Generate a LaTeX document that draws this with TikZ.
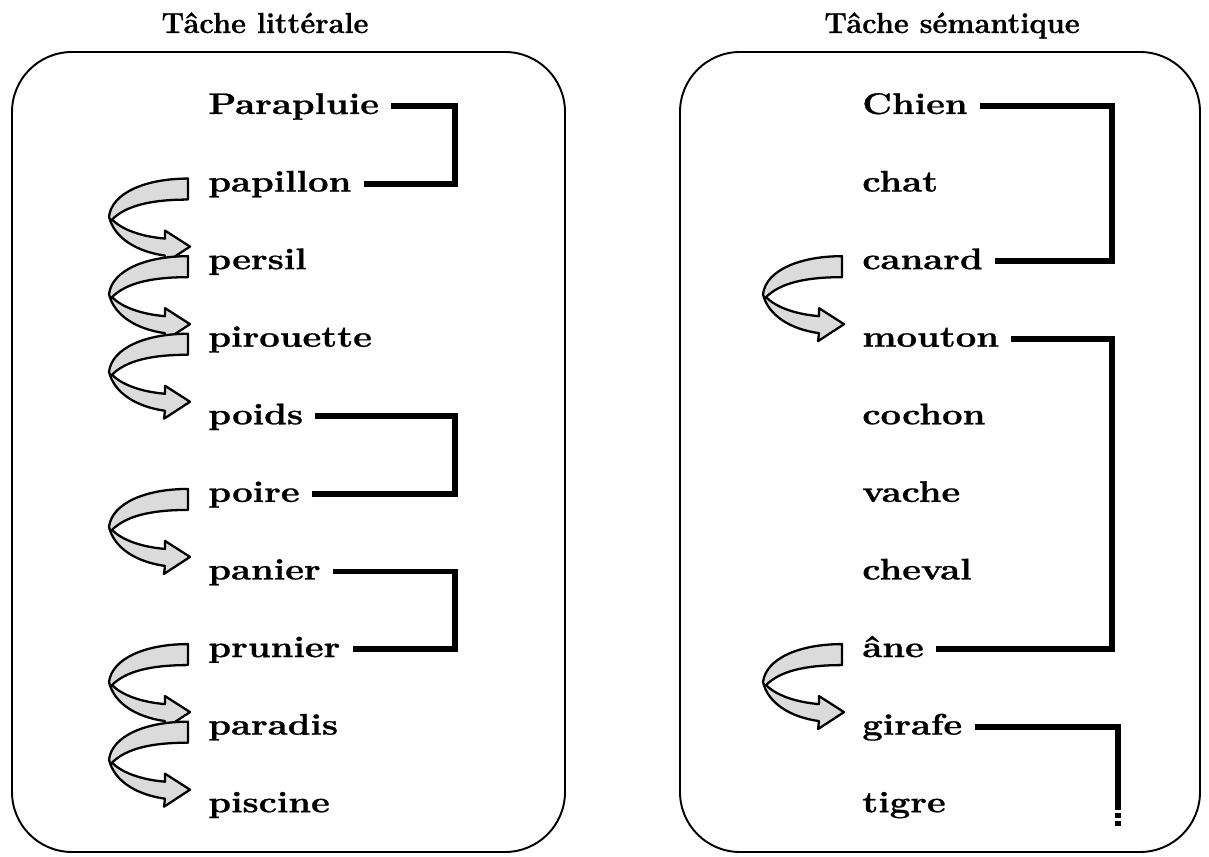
\documentclass[tikz,border=0pt]{standalone}
\usepackage{graphicx}
\usepackage{fontspec}
\setmainfont{Latin Modern Roman}[BoldFeatures={FakeBold=0.8}]
\usetikzlibrary{positioning,calc}
\tikzstyle{mot}=[anchor=base west, inner xsep=0.24cm, inner ysep=0pt, text height=0.32cm, text depth=0pt, font=\fontsize{17}{20}\selectfont\bfseries]
\tikzstyle{sous}=[below=1.552cm of #1.base west, anchor=base west]
\tikzstyle{titre}=[anchor=base, font=\fontsize{16.5}{19}\selectfont\bfseries]
\tikzstyle{cadre}=[draw, line width=1.1pt, rounded corners=1.2cm]
\tikzstyle{accolade}=[line width=3.4pt]
\tikzstyle{fleche}=[draw=black, line width=1.3pt, fill=black!14, line join=round]
\newcommand{\mot}[1]{\scalebox{1.22}[1]{#1}}
% fleche en boucle sous le mot #1
\newcommand{\boucle}[1]{%
\begin{scope}[shift={(#1.west)}]
\path[fleche] (-8,-5) .. controls (-50,-5) and (-84,9) .. (-87,33)
	.. controls (-82,54) and (-60,68) .. (-31,72) -- (-32,80) -- (-6,63)
	-- (-31,47) -- (-31,55) .. controls (-55,53) and (-74,46) .. (-84,36)
	.. controls (-70,22) and (-45,16) .. (-8,16) -- cycle;
\end{scope}}

\begin{document}
\begin{tikzpicture}[x=0.02cm,y=-0.02cm]
\useasboundingbox (0,0) rectangle (1209,857);
\node (tl) [titre] at (265,33) {Tâche littérale};
\node (ts) [titre] at (952,33) {Tâche sémantique};
\draw[cadre] (12,52) rectangle (565,852);
\draw[cadre] (680,52) rectangle (1200,852);
% tache litterale
\node (par) [mot] at (196,114) {\mot{Parapluie}};
\node (pap) [mot,sous=par] {\mot{papillon}};
\node (per) [mot,sous=pap] {\mot{persil}};
\node (pir) [mot,sous=per] {\mot{pirouette}};
\node (poi) [mot,sous=pir] {\mot{poids}};
\node (poe) [mot,sous=poi] {\mot{poire}};
\node (pan) [mot,sous=poe] {\mot{panier}};
\node (pru) [mot,sous=pan] {\mot{prunier}};
\node (pdi) [mot,sous=pru] {\mot{paradis}};
\node (psc) [mot,sous=pdi] {\mot{piscine}};
% tache semantique
\node (chi) [mot] at (850,114) {\mot{Chien}};
\node (cht) [mot,sous=chi] {\mot{chat}};
\node (can) [mot,sous=cht] {\mot{canard}};
\node (mou) [mot,sous=can] {\mot{mouton}};
\node (coc) [mot,sous=mou] {\mot{cochon}};
\node (vac) [mot,sous=coc] {\mot{vache}};
\node (chv) [mot,sous=vac] {\mot{cheval}};
\node (ane) [mot,sous=chv] {\mot{âne}};
\node (gir) [mot,sous=ane] {\mot{girafe}};
\node (tig) [mot,sous=gir] {\mot{tigre}};
\coordinate (cg) at (455,0);
\coordinate (cd) at (1112,0);
\coordinate (cd2) at (1118,0);
\coordinate (fin) at (1118,805);
\coordinate (bout) at (1118,826);
\draw[accolade] (par.east) -- (par.east -| cg) -- (pap.east -| cg) -- (pap.east);
\draw[accolade] (poi.east) -- (poi.east -| cg) -- (poe.east -| cg) -- (poe.east);
\draw[accolade] (pan.east) -- (pan.east -| cg) -- (pru.east -| cg) -- (pru.east);
\draw[accolade] (chi.east) -- (chi.east -| cd) -- (can.east -| cd) -- (can.east);
\draw[accolade] (mou.east) -- (mou.east -| cd) -- (ane.east -| cd) -- (ane.east);
\draw[accolade] (gir.east) -- (gir.east -| cd2) -- (fin);
\draw[accolade,dash pattern=on 3pt off 1.5pt] (fin) -- (bout);
\boucle{pap}
\boucle{per}
\boucle{pir}
\boucle{poe}
\boucle{pru}
\boucle{pdi}
\boucle{can}
\boucle{ane}
\end{tikzpicture}
\end{document}
